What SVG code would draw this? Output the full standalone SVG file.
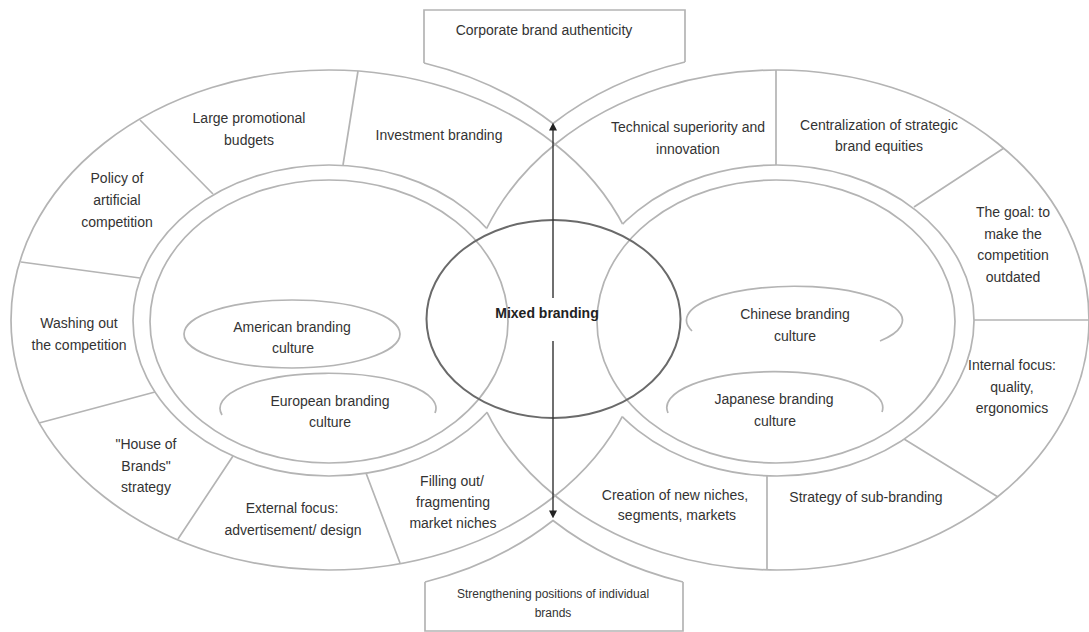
<svg xmlns="http://www.w3.org/2000/svg" width="1089" height="632" viewBox="0 0 1089 632">
<style>
.ln{fill:none;stroke:#b4b4b4;stroke-width:1.7}
.t{font-family:"Liberation Sans",Arial,sans-serif;font-size:14px;fill:#333;text-anchor:middle}
.s{font-size:12px}
.b{font-weight:bold;fill:#222}
.ctr{fill:none;stroke:#6a6a6a;stroke-width:2}
.arr{fill:none;stroke:#333;stroke-width:1.4}
</style>
<defs>
<marker id="ah" viewBox="0 0 10 10" refX="2" refY="5" markerUnits="userSpaceOnUse" markerWidth="8" markerHeight="8" orient="auto-start-reverse"><path d="M0,0 L10,5 L0,10 z" fill="#222"/></marker>
<mask id="mOutMR" maskUnits="userSpaceOnUse" x="0" y="0" width="1089" height="632"><rect width="1089" height="632" fill="#fff"/><ellipse cx="777" cy="320.5" rx="197" ry="155.5" fill="#000"/></mask>
<mask id="mOutML" maskUnits="userSpaceOnUse" x="0" y="0" width="1089" height="632"><rect width="1089" height="632" fill="#fff"/><ellipse cx="329" cy="320.5" rx="196" ry="155.5" fill="#000"/></mask>
<mask id="mOutOL" maskUnits="userSpaceOnUse" x="0" y="0" width="1089" height="632"><rect width="1089" height="632" fill="#fff"/><ellipse cx="329" cy="320" rx="318" ry="250" fill="#000"/></mask>
<mask id="mOutOR" maskUnits="userSpaceOnUse" x="0" y="0" width="1089" height="632"><rect width="1089" height="632" fill="#fff"/><ellipse cx="777" cy="320" rx="312" ry="250" fill="#000"/></mask>
</defs>
<rect width="1089" height="632" fill="#fff"/>

<g id="rings">
<ellipse class="ln" cx="329" cy="320" rx="318" ry="250" mask="url(#mOutMR)"/>
<ellipse class="ln" cx="777" cy="320" rx="312" ry="250" mask="url(#mOutML)"/>
<ellipse class="ln" cx="329" cy="320.5" rx="196" ry="155.5" mask="url(#mOutOR)"/>
<ellipse class="ln" cx="777" cy="320.5" rx="197" ry="155.5" mask="url(#mOutOL)"/>
<ellipse class="ln" cx="329" cy="321.5" rx="179" ry="141.5"/>
<ellipse class="ln" cx="776" cy="321.5" rx="179" ry="141.5"/>
<path class="ln" d="M358,71 L343,165 M140,120 L213,194 M21,262 L140,278 M39,423 L155,392 M178,539 L233,456 M366,473 L400,563"/>
<path class="ln" d="M776,70 L776,165 M1004,148 L914,207 M974,320 L1089,320 M904,439 L998,497 M767,476 L767,569"/>
</g>

<g id="corporate">
<path class="ln" d="M424,63 V10 H685 V62 M424,63 A318,249.5 0 0 1 553,123.5 A318,249.5 0 0 1 685,62"/>
<text class="t" x="544" y="35">Corporate brand authenticity</text>
</g>
<g id="strengthening">
<path class="ln" d="M425,582 A318,249.5 0 0 0 553,520.5 A318,249.5 0 0 0 683,582 M425,582 V631 H683 V582"/>
<text class="t s" x="553" y="598">Strengthening positions of individual</text>
<text class="t s" x="553" y="617">brands</text>
</g>

<g id="mixed">
<ellipse class="ctr" cx="553.5" cy="319" rx="127" ry="99"/>
<text class="t b" x="547" y="318">Mixed branding</text>
</g>

<g id="american">
<ellipse class="ln" cx="292" cy="334" rx="108" ry="34"/>
<text class="t" x="292" y="332">American branding</text>
<text class="t" x="293" y="353">culture</text>
</g>
<g id="european">
<path class="ln" d="M222,415 A108,35 0 1 1 435,413"/>
<text class="t" x="330" y="406">European branding</text>
<text class="t" x="330" y="427">culture</text>
</g>
<g id="chinese">
<path class="ln" d="M692,331 A108,34 0 1 1 880,341"/>
<text class="t" x="795" y="319">Chinese branding</text>
<text class="t" x="795" y="341">culture</text>
</g>
<g id="japanese">
<path class="ln" d="M668,413 A108,36 0 1 1 882,412"/>
<text class="t" x="774" y="404">Japanese branding</text>
<text class="t" x="775" y="426">culture</text>
</g>

<g id="large-promotional"><text class="t" x="249" y="123">Large promotional</text><text class="t" x="249" y="145">budgets</text></g>
<g id="policy"><text class="t" x="117" y="183">Policy of</text><text class="t" x="117" y="205">artificial</text><text class="t" x="117" y="227">competition</text></g>
<g id="investment"><text class="t" x="439" y="140">Investment branding</text></g>
<g id="technical"><text class="t" x="688" y="132">Technical superiority and</text><text class="t" x="688" y="154">innovation</text></g>
<g id="centralization"><text class="t" x="879" y="130">Centralization of strategic</text><text class="t" x="879" y="151">brand equities</text></g>
<g id="goal"><text class="t" x="1013" y="217">The goal: to</text><text class="t" x="1013" y="239">make the</text><text class="t" x="1013" y="260">competition</text><text class="t" x="1013" y="282">outdated</text></g>
<g id="washing"><text class="t" x="79" y="328">Washing out</text><text class="t" x="79" y="350">the competition</text></g>
<g id="internal"><text class="t" x="1012" y="370">Internal focus:</text><text class="t" x="1012" y="392">quality,</text><text class="t" x="1012" y="413">ergonomics</text></g>
<g id="house"><text class="t" x="146" y="449">"House of</text><text class="t" x="146" y="471">Brands"</text><text class="t" x="146" y="492">strategy</text></g>
<g id="external"><text class="t" x="292" y="513">External focus:</text><text class="t" x="293" y="535">advertisement/ design</text></g>
<g id="filling"><text class="t" x="452" y="486">Filling out/</text><text class="t" x="453" y="507">fragmenting</text><text class="t" x="453" y="528">market niches</text></g>
<g id="creation"><text class="t" x="675" y="500">Creation of new niches,</text><text class="t" x="677" y="520">segments, markets</text></g>
<g id="sub-branding"><text class="t" x="866" y="502">Strategy of sub-branding</text></g>

<g id="connectors">
<path class="arr" d="M553,129 V298 M553,341 V512" marker-start="url(#ah)" marker-end="url(#ah)"/>
</g>
</svg>
